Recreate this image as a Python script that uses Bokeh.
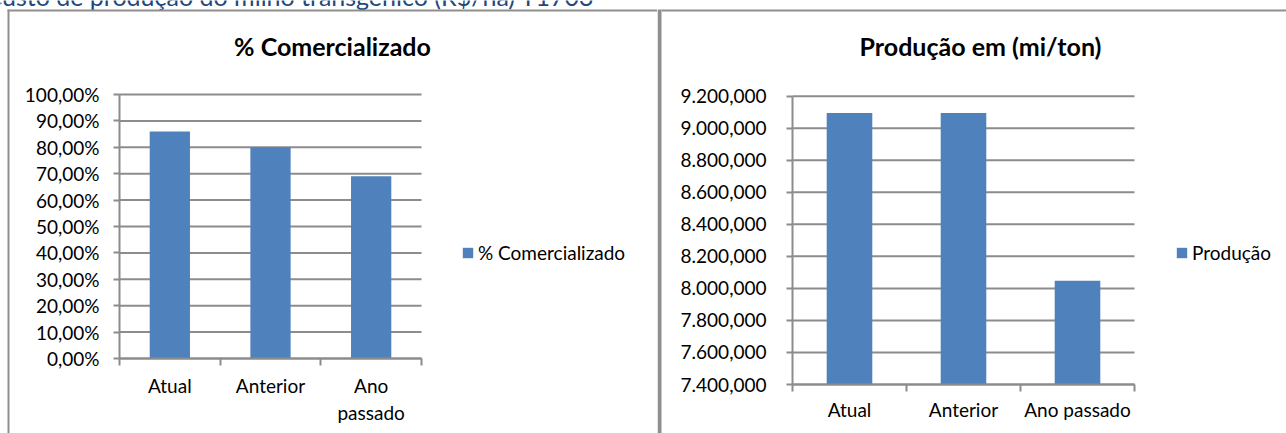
from bokeh.plotting import figure
from bokeh.models import FixedTicker, Label, BoxAnnotation, Legend, LegendItem, Range1d
from bokeh.layouts import row
from bokeh.embed import file_html
from bokeh.resources import INLINE

# ---------------- data ----------------
header_text = "Custo de produção do milho transgênico (R$/ha) T1703"

categories = ["Atual", "Anterior", "Ano passado"]
left_category_labels = ["Atual", "Anterior", "Ano\npassado"]
right_category_labels = ["Atual", "Anterior", "Ano passado"]

left_title = "% Comercializado"
left_series = "% Comercializado"
pct_values = [86, 80, 69]
pct_ticks = [0, 10, 20, 30, 40, 50, 60, 70, 80, 90, 100]
pct_tick_labels = ["0,00%", "10,00%", "20,00%", "30,00%", "40,00%", "50,00%",
                   "60,00%", "70,00%", "80,00%", "90,00%", "100,00%"]

right_title = "Produção em (mi/ton)"
right_series = "Produção"
prod_values = [9095, 9095, 8048]
prod_ticks = [7400, 7600, 7800, 8000, 8200, 8400, 8600, 8800, 9000, 9200]
prod_tick_labels = ["7.400,000", "7.600,000", "7.800,000", "8.000,000", "8.200,000",
                    "8.400,000", "8.600,000", "8.800,000", "9.000,000", "9.200,000"]

# ---------------- styles ----------------
FONT = "Lato"
TXT = "19px"
BAR = "#4F81BD"
GRID = "#8c8c8c"
BORDER = "#8f8f8f"
H = 433


def box(p, left, right, top, bottom, color=BORDER):
    """Frame line of the chart area (screen px from top-left)."""
    p.add_layout(BoxAnnotation(left=left, right=right, top=H - top, bottom=H - bottom,
                               left_units="screen", right_units="screen",
                               top_units="screen", bottom_units="screen",
                               fill_color=color, fill_alpha=1.0, line_color=None))


def make_chart(width, area, ticks, tick_labels, values, xlabels,
               y_standoff, x_standoff, title, title_xy, series, legend_xy):
    # area = pixel box of the plotting area (left, right, y of first tick, y of last tick)
    px_l, px_r, px_y0, px_y1 = area
    n = len(categories)
    y0, y1 = ticks[0], ticks[-1]
    ux = n / (px_r - px_l)                 # data units per pixel (x)
    uy = (y1 - y0) / (px_y0 - px_y1)       # data units per pixel (y)
    x_range = Range1d(-px_l * ux, n + (width - px_r) * ux)
    y_range = Range1d(y0 - (H - px_y0) * uy, y1 + px_y1 * uy)

    p = figure(width=width, height=H, output_backend="svg", toolbar_location=None,
               x_range=x_range, y_range=y_range, min_border=0,
               min_border_left=0, min_border_right=0, min_border_top=0, min_border_bottom=0)
    p.outline_line_color = None
    p.background_fill_color = "white"
    p.border_fill_color = "white"
    p.xgrid.visible = False
    p.ygrid.visible = False

    # horizontal grid lines across the plotting area
    p.segment(x0=[0] * len(ticks), x1=[n] * len(ticks), y0=ticks, y1=ticks,
              line_color=GRID, line_width=2)

    xs = [i + 0.5 for i in range(n)]
    r = p.vbar(x=xs, top=values, bottom=y0, width=0.4,
               fill_color=BAR, line_color=None)

    # y axis
    ya = p.yaxis[0]
    ya.fixed_location = 0
    ya.bounds = (y0, y1)
    ya.ticker = FixedTicker(ticks=ticks)
    ya.major_label_overrides = dict(zip(ticks, tick_labels))
    ya.axis_line_color = GRID
    ya.axis_line_width = 2
    ya.major_tick_line_color = GRID
    ya.major_tick_line_width = 2
    ya.major_tick_out = 6
    ya.major_tick_in = 0
    ya.minor_tick_line_color = None
    ya.major_label_standoff = y_standoff
    ya.major_label_text_font = FONT
    ya.major_label_text_font_size = TXT
    ya.major_label_text_color = "black"

    # x axis: labels at centres, tick marks at category boundaries
    xa = p.xaxis[0]
    xa.fixed_location = y0
    xa.bounds = (0, n)
    xa.ticker = FixedTicker(ticks=xs, minor_ticks=list(range(n + 1)))
    xa.major_label_overrides = dict(zip(xs, xlabels))
    xa.axis_line_color = GRID
    xa.axis_line_width = 2
    xa.major_tick_line_color = None
    xa.major_tick_out = 0
    xa.major_tick_in = 0
    xa.minor_tick_line_color = GRID
    xa.minor_tick_line_width = 2
    xa.minor_tick_out = 7
    xa.minor_tick_in = 0
    xa.major_label_standoff = x_standoff
    xa.major_label_text_font = FONT
    xa.major_label_text_font_size = TXT
    xa.major_label_text_color = "black"

    # chart title
    p.add_layout(Label(x=title_xy[0], y=H - title_xy[1], x_units="screen", y_units="screen",
                       text=title, text_align="center", text_baseline="middle",
                       text_font=FONT, text_font_style="bold", text_font_size="25px",
                       text_color="black"))

    # legend
    legend = Legend(items=[LegendItem(label=series, renderers=[r])],
                    location=(legend_xy[0], H - legend_xy[1]), padding=0, margin=0, spacing=0,
                    glyph_width=13, glyph_height=13, label_standoff=4,
                    border_line_color=None, background_fill_alpha=0,
                    label_text_font=FONT, label_text_font_size=TXT,
                    label_text_color="black")
    p.add_layout(legend)
    return p


# ---------- left chart (screen x 0..657) ----------
p1 = make_chart(657, (119, 421, 358, 94), pct_ticks, pct_tick_labels, pct_values,
                left_category_labels, 14, 8, left_title, (332, 45), left_series, (461, 264))
p1.add_layout(Label(x=-15, y=H + 5, x_units="screen", y_units="screen",
                    text=header_text, text_align="left", text_baseline="middle",
                    text_font=FONT, text_font_size="25px", text_color="#1F497D"))
box(p1, 7, 700, 9, 11)        # top border
box(p1, 7, 9, 9, 450)         # left border

# ---------- right chart (screen x 657..1286) ----------
p2 = make_chart(629, (135, 477, 384, 95.7), prod_ticks, prod_tick_labels, prod_values,
                right_category_labels, 20, 6, right_title, (323, 45), right_series, (518, 264))
box(p2, 0, 4, 9, 450)         # divider
box(p2, 4, 700, 9, 11)        # top border

layout = row(p1, p2, spacing=0)
open("out.html", "w").write(file_html(layout, INLINE))
